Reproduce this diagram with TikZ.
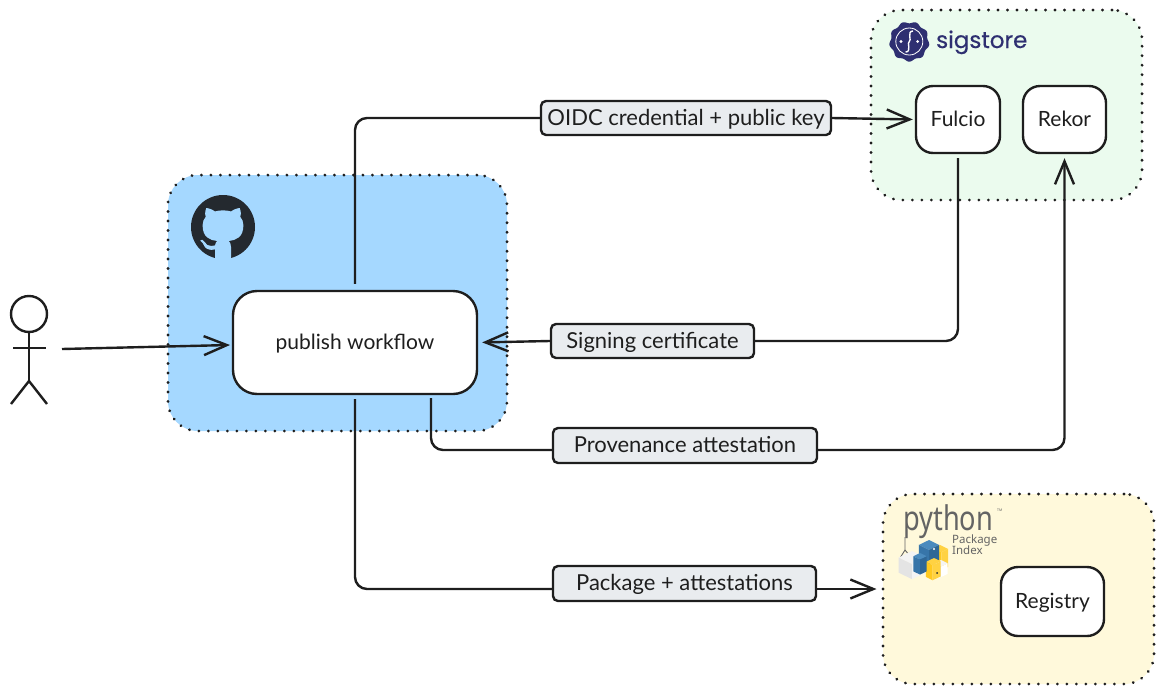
\documentclass[tikz,border=0pt]{standalone}
\usepackage{fontspec}
\setmainfont{Lato}
\newfontfamily\logofont[FakeBold=0.5]{Poppins}
\newfontfamily\pypifont{Noto Sans}
\usetikzlibrary{arrows.meta}
\definecolor{ink}{HTML}{1E1E1E}
\definecolor{ghblue}{HTML}{A5D8FF}
\definecolor{ghdark}{HTML}{24292F}
\definecolor{sigzone}{HTML}{EBFBEE}
\definecolor{signavy}{HTML}{2E2F71}
\definecolor{pypizone}{HTML}{FFF9DB}
\definecolor{pypigray}{HTML}{646464}
\definecolor{tagfill}{HTML}{E9ECEF}
\definecolor{cubeblue}{HTML}{3775A9}
\definecolor{cubebluetop}{HTML}{4B8BBE}
\definecolor{cubebluedark}{HTML}{2F6796}
\definecolor{cubeyellow}{HTML}{FFD242}
\definecolor{cubeyellowdark}{HTML}{FFC91F}
\definecolor{cubewhite}{HTML}{F4F4F4}
\definecolor{cubewhitedark}{HTML}{E4E4E4}
\tikzset{
  zone/.style={draw=ink, line width=3pt, dash pattern=on 0.1pt off 9.4pt, line cap=round, rounded corners=30pt, inner sep=0pt},
  service/.style={draw=ink, fill=white, line width=2.4pt, rounded corners=17pt, inner sep=0pt, text=ink, text height=15pt, text depth=2pt, font=\fontsize{21}{24}\selectfont},
  tag/.style={draw=ink, fill=tagfill, line width=2.4pt, rounded corners=5pt, inner sep=0pt, text=ink, text height=16pt, text depth=2pt, font=\fontsize{22}{25}\selectfont},
  link/.style={draw=ink, line width=2.4pt, rounded corners=12pt},
  linkto/.style={link, -{Straight Barb[length=23pt,width=19pt,line width=2.4pt]}},
  limb/.style={draw=ink, line width=2.4pt},
}
% one isometric box of the package logo: top vertex, sides a and b, height, three face colours
\newcommand{\pkgbox}[8]{
  \fill[#6] (#1,#2) -- ++(6.7*#3,3.3*#3) -- ++(-6.7*#4,3.3*#4) -- ++(-6.7*#3,-3.3*#3) -- cycle;
  \fill[#7] (#1,#2) ++(-6.7*#4,3.3*#4) -- ++(6.7*#3,3.3*#3) -- ++(0,7.5*#5) -- ++(-6.7*#3,-3.3*#3) -- cycle;
  \fill[#8] (#1,#2) ++(6.7*#3,3.3*#3) -- ++(-6.7*#4,3.3*#4) -- ++(0,7.5*#5) -- ++(6.7*#4,-3.3*#4) -- cycle;
}
\begin{document}
\begin{tikzpicture}[x=1pt, y=-1pt]
  \useasboundingbox (0,0) rectangle (1163,694);

  % Zones
  \node (github) [zone, fill=ghblue, minimum width=339pt, minimum height=256pt] at (337.5,303) {};
  \node (sigstore) [zone, fill=sigzone, minimum width=271pt, minimum height=190pt] at (1006.5,105) {};
  \node (pypi) [zone, fill=pypizone, minimum width=271pt, minimum height=190pt] at (1018.5,589) {};

  % Services
  \node (workflow) [service, rounded corners=24pt, minimum width=244pt, minimum height=103pt] at (355,342.5) {publish workflow};
  \node (fulcio) [service, minimum width=84pt, minimum height=67pt] at (958,119.5) {Fulcio};
  \node (rekor) [service, minimum width=83pt, minimum height=67pt] at (1064.5,119.5) {Rekor};
  \node (registry) [service, minimum width=103pt, minimum height=69pt] at (1052.5,601.5) {Registry};

  % Edge labels
  \node (oidc) [tag, minimum width=290pt, minimum height=34pt] at (686,118) {OIDC credential + public key};
  \node (signing) [tag, minimum width=203pt, minimum height=34pt] at (652.5,341) {Signing certificate};
  \node (provenance) [tag, minimum width=264pt, minimum height=35pt] at (685,445.5) {Provenance attestation};
  \node (package) [tag, minimum width=263pt, minimum height=35pt] at (684.5,583.5) {Package + attestations};

  % Actor
  \node (head) [circle, draw=ink, line width=2.4pt, minimum size=36pt, inner sep=0pt] at (29,314) {};
  \coordinate (hip) at (29,381);
  \coordinate (armleft) at (13,348);
  \coordinate (armright) at (46,348);
  \coordinate (footleft) at (11,404);
  \coordinate (footright) at (47,404);
  \draw[limb] (head.south) -- (hip);
  \draw[limb] (armleft) -- (armright);
  \draw[limb] (footleft) -- (hip) -- (footright);

  % Connectors
  \coordinate (actorout) at (62,349);
  \coordinate (workflowin) at (230,345);
  \coordinate (provout) at (431,398);
  \coordinate (provlane) at (431,450);
  \draw[linkto] (actorout) -- (workflowin);
  \draw[link, shorten <=6pt] (workflow.north) |- (oidc.west);
  \draw[linkto, shorten >=2pt] (oidc.east) -- (fulcio.west);
  \draw[link, shorten <=4pt] (fulcio.south) |- (signing.east);
  \draw[linkto, shorten >=4pt] (signing.west) -- (workflow.east);
  \draw[link] (provout) |- (provenance.west |- provlane);
  \draw[linkto, shorten >=4pt] (provenance.east |- provlane) -| (rekor.south);
  \draw[link, shorten <=4pt] (workflow.south) |- (package.west |- pypi.west);
  \draw[linkto, shorten >=5pt] (package.east |- pypi.west) -- (pypi.west);

  % GitHub mark
  \begin{scope}[shift={(191,195)}, xscale=4, yscale=4]
    \fill[ghdark] (8,8) circle (8);
    \fill[ghblue] (2.85,11.2) .. controls (3.3,11.3) and (3.5,12.2) .. (4.1,12.5) .. controls (4.7,12.9) and (5.4,12.7) .. (6,12.6) .. controls (6.1,12) and (6.3,11.7) .. (6.55,11.5) .. controls (4.7,11.3) and (2.9,10.6) .. (2.9,7.55) .. controls (2.9,6.7) and (3.2,6) .. (3.7,5.4) .. controls (3.6,5.2) and (3.35,4.4) .. (3.8,3.3) .. controls (3.8,3.3) and (4.45,3.1) .. (6,4.1) .. controls (7.3,3.75) and (8.7,3.75) .. (10,4.1) .. controls (11.55,3.1) and (12.2,3.3) .. (12.2,3.3) .. controls (12.65,4.4) and (12.4,5.2) .. (12.3,5.4) .. controls (12.8,6) and (13.1,6.7) .. (13.1,7.55) .. controls (13.1,10.6) and (11.25,11.3) .. (9.45,11.5) .. controls (9.75,11.75) and (10,12.25) .. (10,13) -- (10,16.2) -- (6,16.2) -- (6,13.6) .. controls (4,14) and (3.5,13.1) .. (3.3,12.7) .. controls (3.2,12.45) and (2.8,11.7) .. (2.45,11.55) .. controls (2.2,11.4) and (2.3,11.2) .. (2.85,11.2) -- cycle;
  \end{scope}

  % Sigstore logo
  \fill[signavy] plot[domain=0:356, samples=90, smooth cycle] ({909.3+(19.2+1*sin(9*\x))*cos(\x)}, {41.5+(19.2+1*sin(9*\x))*sin(\x)});
  \draw[white, line width=0.8pt] (909.3,41.5) circle (13.5);
  \fill[white] (901,41.5) circle (1.6) (917.6,41.5) circle (1.6);
  \draw[white, line width=1.4pt] (913,31) .. controls (906.5,31) and (912,41) .. (909.3,41.5) .. controls (906.5,42) and (912,52) .. (905.6,52);
  \node (sigword) [anchor=base west, inner sep=0pt, text=signavy, font=\logofont\fontsize{23}{26}\selectfont] at (936,48) {sigstore};

  % PyPI logo
  \node (pyword) [anchor=base west, inner sep=0pt, text=pypigray, text depth=0pt, transform shape, xscale=0.8, font=\pypifont\fontsize{34}{38}\selectfont] at (903,530) {python};
  \node (pyword2) [anchor=base west, inner sep=0pt, text=pypigray, font=\pypifont\fontsize{11.5}{13}\selectfont] at (952,543) {Package};
  \node (pyword3) [anchor=base west, inner sep=0pt, text=pypigray, font=\pypifont\fontsize{11.5}{13}\selectfont] at (952,554) {Index};
  \node (pytm) [anchor=base west, inner sep=0pt, text=pypigray, font=\pypifont\fontsize{3.5}{5}\selectfont] at (997,511) {TM};
  \draw[pypigray, line width=0.9pt] (905,537) -- (905,550) (905,550) -- (900,558) (905,550) -- (910,556);
  \pkgbox{912}{551}{2}{2}{2}{cubewhite}{cubewhitedark}{cubewhite}
  \pkgbox{940}{545}{1.2}{1}{2.4}{cubeyellow}{cubeyellowdark}{cubeyellow}
  \pkgbox{929}{540}{1.5}{1.5}{2}{cubebluetop}{cubeblue}{cubebluedark}
  \pkgbox{941}{560}{1}{1}{1.4}{cubewhite}{cubewhitedark}{white}
  \pkgbox{934}{558}{1}{1.2}{2}{cubeyellow}{cubeyellowdark}{cubeyellow}
  \pkgbox{920}{553}{1}{1}{2}{cubebluetop}{cubeblue}{cubebluedark}
  \fill[white] (934,549) circle (1.2);
  \fill[ghdark] (937,573) circle (1);
\end{tikzpicture}
\end{document}
